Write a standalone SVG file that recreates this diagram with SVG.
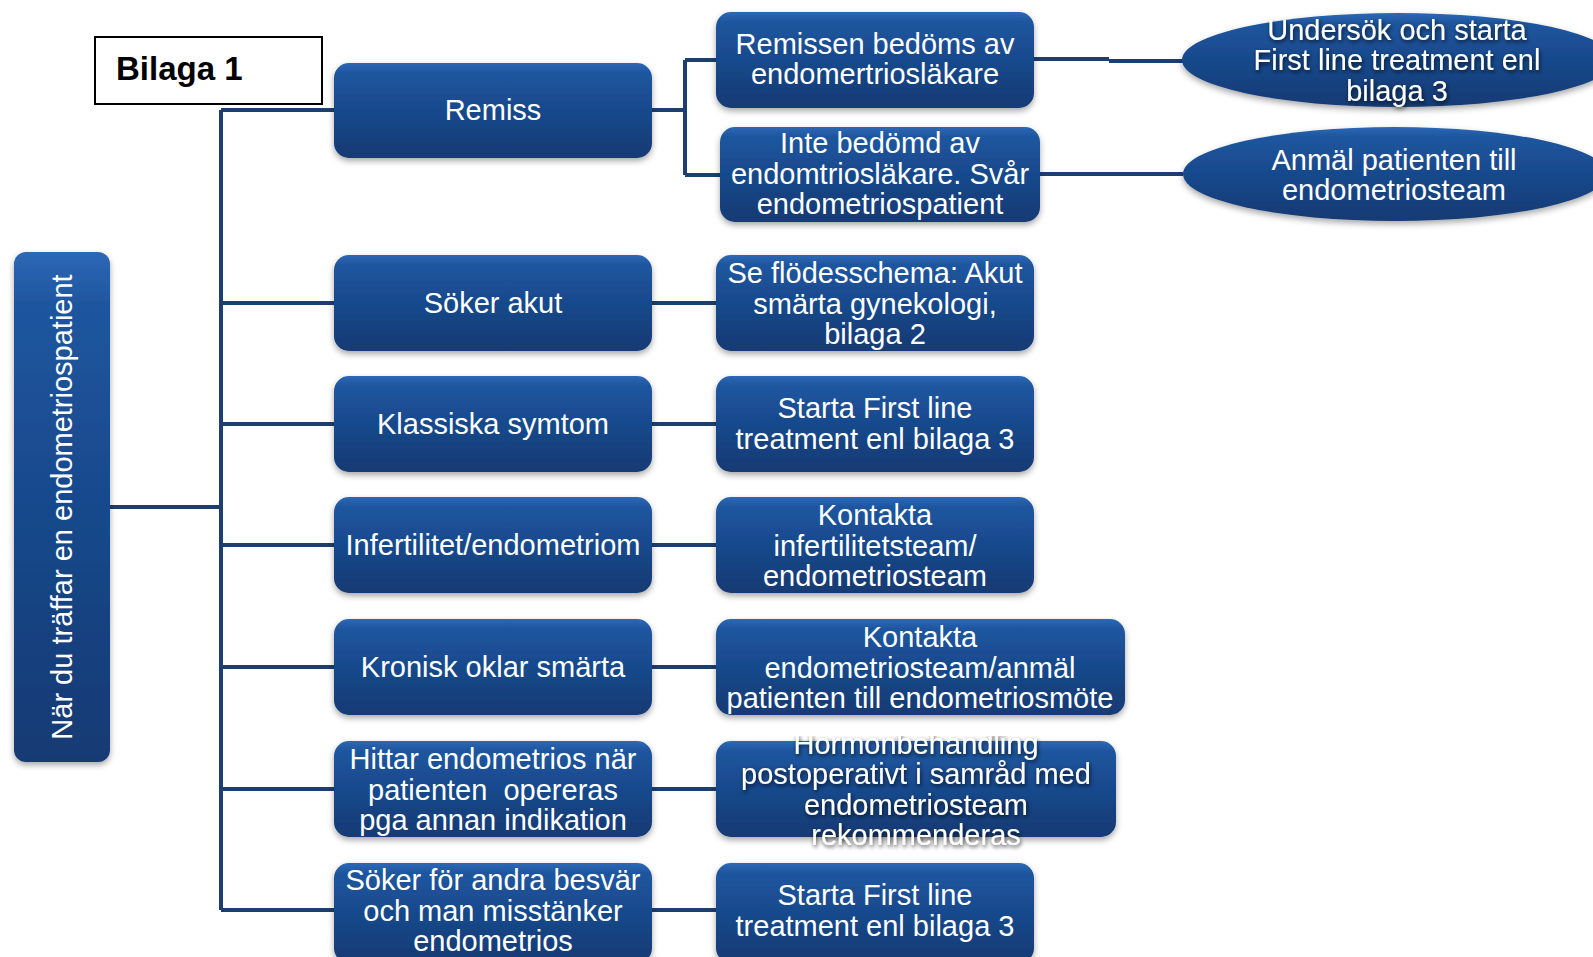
<svg xmlns="http://www.w3.org/2000/svg" width="1593" height="957" viewBox="0 0 1593 957">
<defs>
<linearGradient id="g" x1="0" y1="0" x2="0" y2="1">
<stop offset="0" stop-color="#2d68b6"/>
<stop offset="0.1" stop-color="#1f569f"/>
<stop offset="0.5" stop-color="#18498c"/>
<stop offset="1" stop-color="#123a73"/>
</linearGradient>
<filter id="sh" x="-10%" y="-10%" width="120%" height="130%">
<feDropShadow dx="0" dy="3" stdDeviation="3" flood-color="#000" flood-opacity="0.35"/>
</filter>
<filter id="ts" x="-10%" y="-30%" width="120%" height="160%">
<feGaussianBlur in="SourceAlpha" stdDeviation="2"/>
<feOffset dx="1" dy="2" result="b"/>
<feFlood flood-color="#000" flood-opacity="0.75"/>
<feComposite in2="b" operator="in"/>
<feMerge><feMergeNode/><feMergeNode in="SourceGraphic"/></feMerge>
</filter>
<clipPath id="clipH"><rect x="700" y="736" width="450" height="160"/></clipPath>
<clipPath id="clipU"><rect x="1150" y="19" width="443" height="100"/></clipPath>
</defs>
<style>
.n{fill:url(#g);filter:url(#sh)}
.t{fill:#fff;font-family:"Liberation Sans",Arial,sans-serif;font-size:29px;text-anchor:middle;white-space:pre}
.s{filter:url(#ts)}
.c{fill:none;stroke:#1c3f70;stroke-width:4}
</style>
<rect width="1593" height="957" fill="#fff"/>
<g id="connectors">
<path class="c" d="M110 507H221M221 110V910M221 110H334M221 303H334M221 424H334M221 545H334M221 667H334M221 789H334M221 910H334"/>
<path class="c" d="M652 110H685M685 60V175M685 60H716M685 175H720"/>
<path class="c" d="M1034 59H1109M1109 61H1183M1040 174H1183"/>
<path class="c" d="M652 303H716M652 424H716M652 545H716M652 667H716M652 789H716M652 910H716"/>
</g>
<g id="bilaga">
<rect x="95" y="37" width="227" height="67" fill="#fff" stroke="#000" stroke-width="2"/>
<text x="116" y="80" font-family="Liberation Sans,Arial,sans-serif" font-size="33" font-weight="bold" fill="#000">Bilaga 1</text>
</g>
<g id="start">
<rect class="n" x="14" y="252" width="96" height="510" rx="12"/>
<text class="t" transform="translate(72,507) rotate(-90)">När du träffar en endometriospatient</text>
</g>
<g id="remiss">
<rect class="n" x="334" y="63" width="318" height="95" rx="15"/>
<text class="t" x="493" y="120">Remiss</text>
</g>
<g id="soker-akut">
<rect class="n" x="334" y="255" width="318" height="96" rx="15"/>
<text class="t" x="493" y="313">Söker akut</text>
</g>
<g id="klassiska">
<rect class="n" x="334" y="376" width="318" height="96" rx="15"/>
<text class="t" x="493" y="434">Klassiska symtom</text>
</g>
<g id="infertilitet">
<rect class="n" x="334" y="497" width="318" height="96" rx="15"/>
<text class="t" x="493" y="555">Infertilitet/endometriom</text>
</g>
<g id="kronisk">
<rect class="n" x="334" y="619" width="318" height="96" rx="15"/>
<text class="t" x="493" y="677">Kronisk oklar smärta</text>
</g>
<g id="hittar">
<rect class="n" x="334" y="741" width="318" height="96" rx="15"/>
<text class="t" x="493" y="769">Hittar endometrios när</text>
<text class="t" x="493" y="800">patienten  opereras</text>
<text class="t" x="493" y="830">pga annan indikation</text>
</g>
<g id="soker-andra">
<rect class="n" x="334" y="863" width="318" height="100" rx="15"/>
<text class="t" x="493" y="890">Söker för andra besvär</text>
<text class="t" x="493" y="921">och man misstänker</text>
<text class="t" x="493" y="951">endometrios</text>
</g>
<g id="remissen-bedoms">
<rect class="n" x="716" y="12" width="318" height="96" rx="15"/>
<text class="t" x="875" y="54">Remissen bedöms av</text>
<text class="t" x="875" y="84">endomertriosläkare</text>
</g>
<g id="inte-bedomd">
<rect class="n" x="720" y="127" width="320" height="95" rx="15"/>
<text class="t" x="880" y="153">Inte bedömd av</text>
<text class="t" x="880" y="184">endomtriosläkare. Svår</text>
<text class="t" x="880" y="214">endometriospatient</text>
</g>
<g id="se-flodesschema">
<rect class="n" x="716" y="255" width="318" height="96" rx="15"/>
<text class="t" x="875" y="283">Se flödesschema: Akut</text>
<text class="t" x="875" y="314">smärta gynekologi,</text>
<text class="t" x="875" y="344">bilaga 2</text>
</g>
<g id="starta-1">
<rect class="n" x="716" y="376" width="318" height="96" rx="15"/>
<text class="t" x="875" y="418">Starta First line</text>
<text class="t" x="875" y="449">treatment enl bilaga 3</text>
</g>
<g id="kontakta-infertilitet">
<rect class="n" x="716" y="497" width="318" height="96" rx="15"/>
<text class="t" x="875" y="525">Kontakta</text>
<text class="t" x="875" y="556">infertilitetsteam/</text>
<text class="t" x="875" y="586">endometriosteam</text>
</g>
<g id="kontakta-endometriosteam">
<rect class="n" x="716" y="619" width="409" height="96" rx="15"/>
<text class="t" x="920" y="647">Kontakta</text>
<text class="t" x="920" y="678">endometriosteam/anmäl</text>
<text class="t" x="920" y="708">patienten till endometriosmöte</text>
</g>
<g id="hormonbehandling">
<rect class="n" x="716" y="741" width="400" height="96" rx="15"/>
<g clip-path="url(#clipH)">
<g class="s">
<text class="t" x="916" y="754">Hormonbehandling</text>
<text class="t" x="916" y="784">postoperativt i samråd med</text>
<text class="t" x="916" y="815">endometriosteam</text>
<text class="t" x="916" y="845">rekommenderas</text>
</g>
</g>
</g>
<g id="starta-2">
<rect class="n" x="716" y="863" width="318" height="100" rx="15"/>
<text class="t" x="875" y="905">Starta First line</text>
<text class="t" x="875" y="936">treatment enl bilaga 3</text>
</g>
<g id="undersok">
<ellipse class="n" cx="1398" cy="60" rx="216" ry="47"/>
<g clip-path="url(#clipU)">
<g class="s">
<text class="t" x="1397" y="40">Undersök och starta</text>
<text class="t" x="1397" y="70">First line treatment enl</text>
<text class="t" x="1397" y="101">bilaga 3</text>
</g>
</g>
</g>
<g id="anmal">
<ellipse class="n" cx="1395" cy="174" rx="212" ry="47"/>
<text class="t" x="1394" y="170">Anmäl patienten till</text>
<text class="t" x="1394" y="200">endometriosteam</text>
</g>
</svg>
